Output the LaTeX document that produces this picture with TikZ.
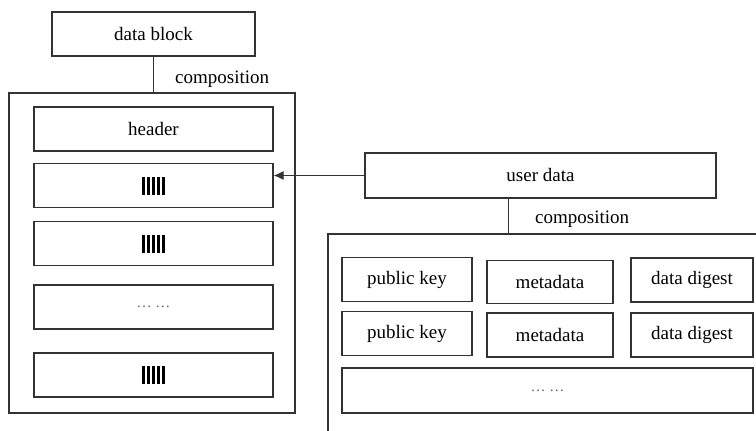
\documentclass[tikz,border=0pt]{standalone}
\usepackage{fontspec}
\setmainfont{Liberation Serif}
\usetikzlibrary{arrows.meta, positioning}

\newcommand{\barcode}{\rule{3.9pt}{18pt}\hspace{1.1pt}\rule{3.9pt}{18pt}\hspace{1.1pt}\rule{3.9pt}{18pt}\hspace{1.1pt}\rule{3.9pt}{18pt}\hspace{1.1pt}\rule{3.9pt}{18pt}}
\newcommand{\moredots}{\textcolor{black!60}{\fontsize{15}{17}\selectfont …\ …}}

\begin{document}
\begin{tikzpicture}[
    x = 1pt, y = -1pt,
    font = \fontsize{19}{22}\selectfont,
    box/.style = {rectangle, draw=black!80, line width=1.2pt, inner sep=0pt},
    rowbox/.style = {box, minimum width=239pt, minimum height=44pt},
    cellbox/.style = {box, minimum height=44pt},
    label/.style = {anchor=west, inner sep=0pt},
    line/.style = {draw=black!80, line width=1pt},
    arrow/.style = {line, -{Latex[length=10pt, width=9pt]}}
]
\clip (0,0) rectangle (756,431);

% Define nodes
\node[box, minimum width=203pt, minimum height=44pt] (datablock) at (153.5,34) {data block};
\node[box, minimum width=286pt, minimum height=320pt] (blockbody) at (152,253) {};
\node[label] (comp1) at (175,79) {composition};

\node[rowbox] (header) at (153.5,129) {header};
\node[rowbox] (row2) at (153.5,185.5) {\barcode};
\node[rowbox] (row3) at (153.5,243.5) {\barcode};
\node[rowbox] (row4) at (153.5,307) {\moredots};
\node[rowbox] (row5) at (153.5,375) {\barcode};

\node[box, minimum width=351pt, minimum height=45pt] (userdata) at (540.5,175.5) {user data};
\node[box, minimum width=462pt, minimum height=226pt] (userbody) at (559,347) {};
\node[label] (comp2) at (535,219) {composition};

\node[cellbox, minimum width=130pt] (key1) at (407,279.5) {public key};
\node[cellbox, minimum width=126pt, minimum height=43pt] (meta1) at (550,282) {metadata};
\node[cellbox, minimum width=122pt] (digest1) at (692,280) {data digest};
\node[cellbox, minimum width=130pt] (key2) at (407,333.5) {public key};
\node[cellbox, minimum width=126pt] (meta2) at (550,335) {metadata};
\node[cellbox, minimum width=122pt] (digest2) at (692,335) {data digest};
\node[cellbox, minimum width=411pt, minimum height=45pt] (more) at (547.5,390.5) {\moredots};

% Draw arrows
\draw[line] (datablock.south) -- (datablock.south |- blockbody.north);
\draw[arrow] (userdata.west) -- (userdata.west -| row2.east);
\draw[line] ([xshift=-32.5pt]userdata.south) -- ([xshift=-32.5pt]userdata.south |- userbody.north);

\end{tikzpicture}
\end{document}
